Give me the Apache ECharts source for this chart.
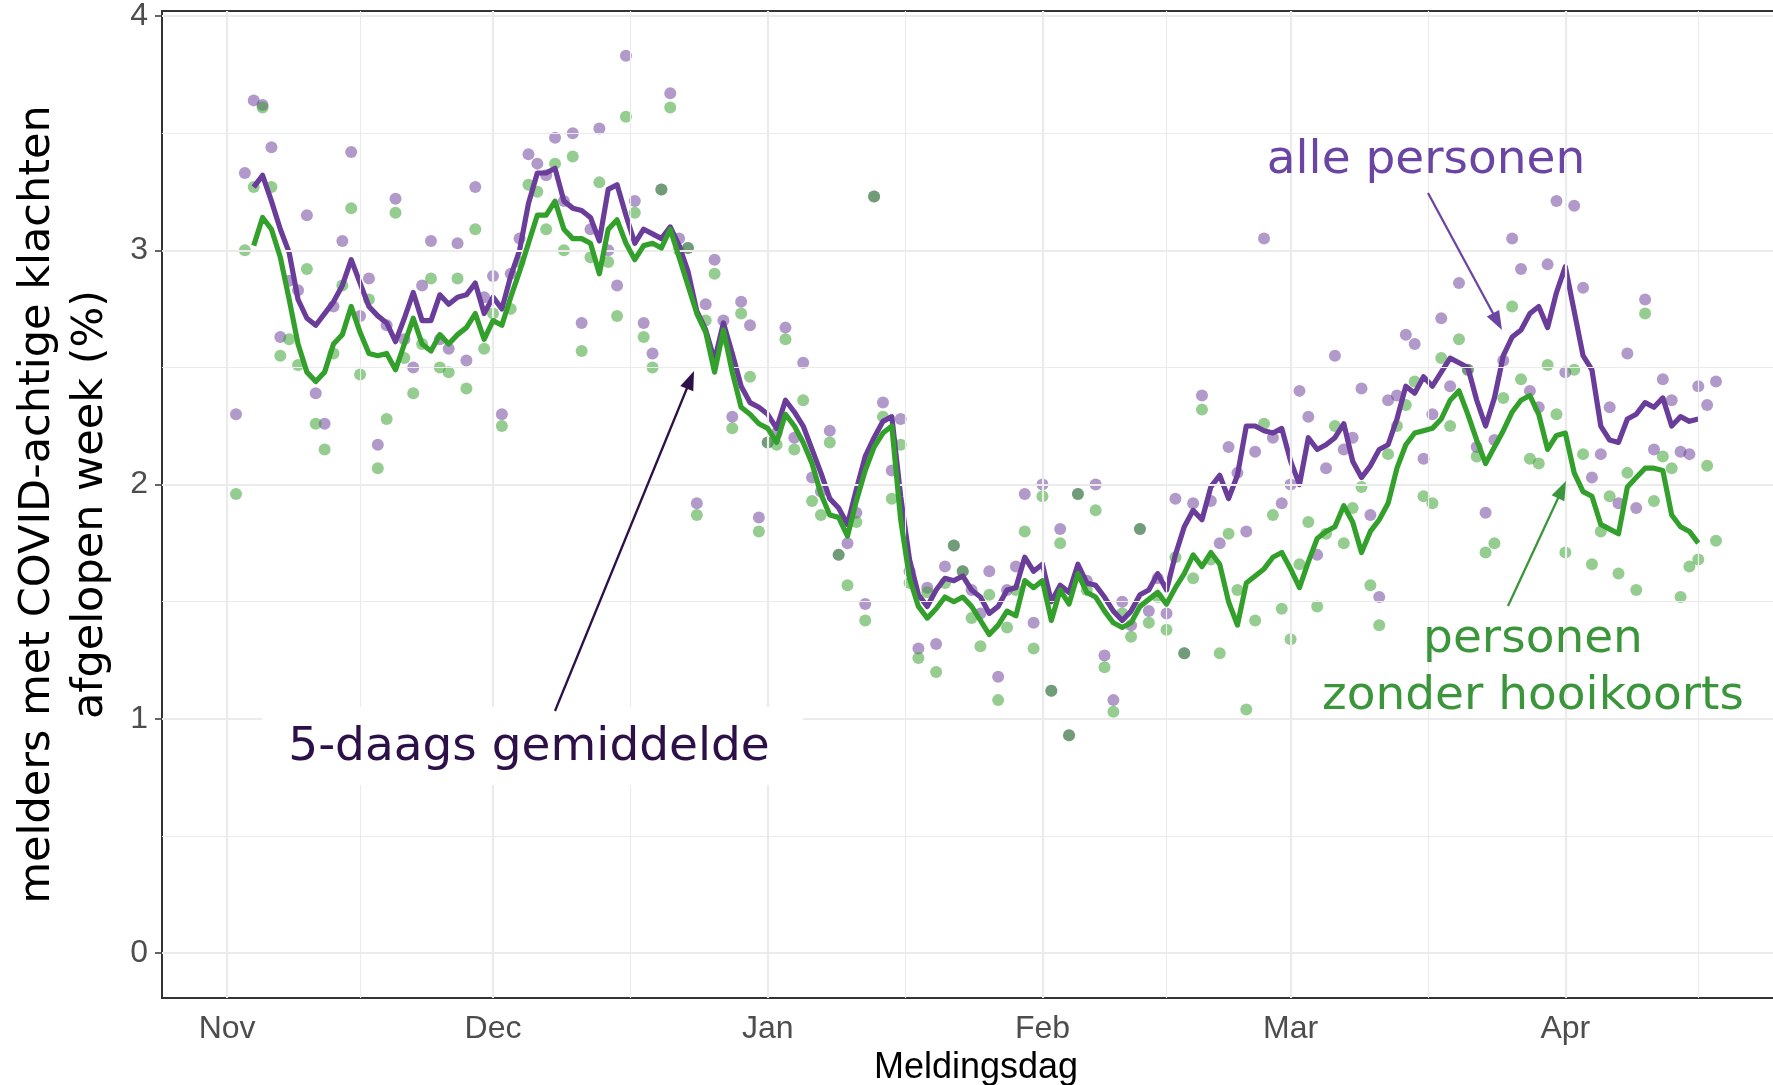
<!DOCTYPE html>
<html><head><meta charset="utf-8">
<script src="https://cdn.jsdelivr.net/npm/echarts@6/dist/echarts.min.js"></script>
<style>
html,body{margin:0;padding:0;background:#fff;overflow:hidden;width:1773px;height:1085px}
#wrap{width:1773px;height:1085px;overflow:hidden;position:relative}
#chart{width:1790px;height:1085px;position:absolute;left:0;top:0}
</style>
</head><body><div id="wrap"><div id="chart"></div></div>
<script>
// ---------------- data ----------------
const pointStart = '2020-11-02';   // first daily point
const lineStart  = '2020-11-04';   // first value of the 5-daags gemiddelde

const allePersonen = [
 2.30,3.33,3.64,3.62,3.44,2.63,2.87,2.83,3.15,2.39,
 2.26,2.76,3.04,3.42,2.72,2.88,2.17,2.68,3.22,2.62,
 2.50,2.85,3.04,2.62,2.58,3.03,2.53,3.27,2.80,2.89,
 2.30,2.90,3.05,3.41,3.37,3.32,3.48,3.21,3.50,2.69,
 3.09,3.52,3.00,2.85,3.83,3.21,2.69,2.56,3.26,3.67,
 3.05,3.01,1.92,2.77,2.96,2.70,2.29,2.78,2.68,1.86,
 2.18,2.22,2.67,2.20,2.52,2.03,1.97,2.23,1.70,1.75,
 1.88,1.49,3.23,2.35,2.06,2.28,1.63,1.30,1.56,1.32,
 1.65,1.74,1.63,1.55,1.45,1.63,1.18,1.55,1.65,1.96,
 1.41,2.00,1.12,1.81,0.93,1.96,1.59,2.00,1.27,1.08,
 1.50,1.40,1.81,1.46,1.60,1.45,1.94,1.28,1.92,2.38,
 1.93,1.75,2.16,2.05,1.80,2.14,3.05,2.20,1.92,2.00,
 2.40,2.29,1.70,2.07,2.55,2.15,2.20,2.41,1.87,1.52,
 2.36,2.38,2.64,2.60,2.11,2.30,2.71,2.42,2.86,2.49,
 2.16,1.88,2.19,2.53,3.05,2.92,2.40,2.33,2.94,3.21,
 2.48,3.19,2.84,2.03,2.13,2.33,1.92,2.56,1.90,2.79,
 2.15,2.45,2.36,2.14,2.13,2.42,2.34,2.44
];
const zonderHooikoorts = [
 1.96,3.00,3.27,3.61,3.27,2.55,2.62,2.51,2.92,2.26,
 2.15,2.56,2.85,3.18,2.47,2.79,2.07,2.28,3.16,2.54,
 2.39,2.60,2.88,2.50,2.48,2.88,2.41,3.09,2.58,2.73,
 2.25,2.75,2.95,3.28,3.25,3.09,3.37,3.00,3.40,2.57,
 2.97,3.29,2.95,2.72,3.57,3.16,2.63,2.50,3.26,3.61,
 3.00,3.01,1.87,2.70,2.90,2.62,2.24,2.73,2.46,1.80,
 2.18,2.17,2.62,2.15,2.36,1.93,1.87,2.18,1.70,1.57,
 1.84,1.42,3.23,2.29,1.94,2.17,1.58,1.26,1.54,1.20,
 1.58,1.74,1.63,1.43,1.31,1.53,1.08,1.39,1.55,1.80,
 1.30,1.95,1.12,1.75,0.93,1.96,1.55,1.89,1.22,1.03,
 1.45,1.35,1.81,1.41,1.52,1.38,1.69,1.28,1.60,2.32,
 1.68,1.28,1.79,1.55,1.04,1.42,2.26,1.87,1.47,1.34,
 1.66,1.84,1.48,1.79,2.25,1.75,1.90,1.99,1.57,1.40,
 2.13,2.25,2.34,2.44,1.95,1.92,2.54,2.25,2.62,2.49,
 2.12,1.71,1.75,2.37,2.76,2.45,2.11,2.09,2.51,2.30,
 1.71,2.49,2.13,1.66,1.80,1.95,1.62,2.05,1.55,2.73,
 1.93,2.12,2.07,1.52,1.65,1.68,2.08,1.76
];
const allePersonenGem = [
 3.27,3.32,3.21,3.09,2.99,2.79,2.71,2.68,
 2.73,2.78,2.85,2.96,2.86,2.76,2.72,2.69,2.61,2.71,
 2.82,2.70,2.70,2.81,2.77,2.80,2.81,2.86,2.73,2.80,
 2.75,2.89,3.00,3.20,3.33,3.33,3.35,3.21,3.18,3.17,
 3.14,3.04,3.26,3.28,3.15,3.03,3.09,3.07,3.05,3.10,
 3.02,2.91,2.74,2.66,2.53,2.69,2.56,2.42,2.35,2.33,
 2.30,2.24,2.36,2.31,2.25,2.15,2.05,1.94,1.90,1.83,
 1.98,2.12,2.20,2.27,2.29,1.95,1.68,1.53,1.48,1.55,
 1.60,1.59,1.61,1.55,1.52,1.45,1.48,1.55,1.56,1.69,
 1.63,1.66,1.50,1.57,1.54,1.66,1.58,1.57,1.52,1.46,
 1.42,1.46,1.53,1.55,1.62,1.55,1.70,1.82,1.89,1.85,
 1.99,2.04,1.94,2.04,2.25,2.25,2.23,2.22,2.24,2.10,
 2.00,2.20,2.15,2.17,2.20,2.26,2.10,2.03,2.08,2.15,
 2.17,2.28,2.42,2.39,2.46,2.42,2.48,2.54,2.52,2.50,
 2.36,2.25,2.37,2.55,2.63,2.66,2.73,2.76,2.67,2.82,
 2.93,2.74,2.55,2.49,2.25,2.19,2.18,2.28,2.30,2.35,
 2.33,2.37,2.25,2.29,2.27,2.28
];
const zonderHooikoortsGem = [
 3.02,3.14,3.09,2.97,2.79,2.60,2.48,2.44,
 2.48,2.60,2.64,2.76,2.65,2.56,2.55,2.56,2.49,2.60,
 2.71,2.60,2.57,2.64,2.60,2.64,2.67,2.73,2.62,2.70,
 2.68,2.80,2.91,3.03,3.15,3.15,3.21,3.09,3.05,3.05,
 3.03,2.90,3.09,3.13,3.03,2.96,3.02,3.03,3.01,3.09,
 2.97,2.85,2.73,2.65,2.48,2.66,2.48,2.33,2.30,2.26,
 2.24,2.18,2.30,2.25,2.18,2.09,1.96,1.87,1.86,1.78,
 1.93,2.06,2.16,2.22,2.25,1.85,1.60,1.48,1.43,1.47,
 1.52,1.50,1.52,1.48,1.42,1.36,1.40,1.46,1.44,1.59,
 1.56,1.59,1.42,1.55,1.49,1.62,1.54,1.52,1.46,1.41,
 1.39,1.41,1.48,1.51,1.54,1.49,1.56,1.62,1.70,1.65,
 1.71,1.66,1.50,1.40,1.58,1.61,1.64,1.69,1.71,1.64,
 1.56,1.67,1.77,1.80,1.82,1.91,1.84,1.71,1.80,1.85,
 1.92,2.07,2.17,2.22,2.23,2.24,2.28,2.36,2.40,2.30,
 2.19,2.09,2.16,2.23,2.31,2.36,2.38,2.30,2.15,2.21,
 2.22,2.05,1.97,1.95,1.83,1.81,1.79,1.99,2.03,2.07,
 2.07,2.06,1.87,1.82,1.80,1.75
];
const monthTicks  = ['2020-11-01','2020-12-01','2021-01-01','2021-02-01','2021-03-01','2021-04-01','2021-05-01'];
const monthLabels = ['Nov','Dec','Jan','Feb','Mar','Apr','May'];
const yTicks = [0, 1, 2, 3, 4];

// ---------------- build ----------------
const DAY = 864e5;
const seq = (start, n) => { const t = Date.parse(start); return Array.from({length: n}, (_, i) => t + i * DAY); };
const pDates = seq(pointStart, allePersonen.length);
const lDates = seq(lineStart, allePersonenGem.length);
const pair = (dates, vals) => dates.map((t, i) => [t, vals[i]]);

const monthTs = monthTicks.map(d => Date.parse(d));
const minorTs = monthTs.slice(0, -1).map((t, i) => (t + monthTs[i + 1]) / 2);
const labelOf = v => { const i = monthTs.indexOf(v); return i >= 0 ? monthLabels[i] : ''; };

const x0 = Date.parse('2020-11-01');
const xMin = x0 - 7.35 * DAY, xMax = x0 + 176.35 * DAY;

const PURPLE = '#6A3D9A', GREEN = '#33A02C';
const gridCol = '#EBEBEB';
const gridLines = [];
monthTs.forEach(t => gridLines.push({xAxis: t, lineStyle: {color: gridCol, width: 2.2, type: 'solid'}}));
minorTs.forEach(t => gridLines.push({xAxis: t, lineStyle: {color: gridCol, width: 1.1, type: 'solid'}}));
yTicks.forEach(v => gridLines.push({yAxis: v, lineStyle: {color: gridCol, width: 2.2, type: 'solid'}}));
yTicks.slice(0, -1).forEach(v => gridLines.push({yAxis: v + 0.5, lineStyle: {color: gridCol, width: 1.1, type: 'solid'}}));

function arrow(x1, y1, x2, y2, color) {
  const dx = x2 - x1, dy = y2 - y1, L = Math.hypot(dx, dy);
  const ux = dx / L, uy = dy / L, h = 19, w = 7;
  const bx = x2 - ux * h, by = y2 - uy * h, px = -uy, py = ux;
  return [
    {type: 'line', z: 100, shape: {x1, y1, x2: bx + ux * 2, y2: by + uy * 2}, style: {stroke: color, lineWidth: 2.3}},
    {type: 'polygon', z: 100, shape: {points: [[x2, y2], [bx + px * w, by + py * w], [bx - px * w, by - py * w]]}, style: {fill: color}}
  ];
}
function label(text, x, y, color) {
  return {type: 'text', z: 101, x, y, style: {text, fill: color, font: '47px "DejaVu Sans"',
    fontSize: 47, fontFamily: 'DejaVu Sans', textAlign: 'center', align: 'center',
    textVerticalAlign: 'middle', verticalAlign: 'middle'}};
}

const chart = echarts.init(document.getElementById('chart'), null, {renderer: 'canvas'});
chart.setOption({
  animation: false,
  backgroundColor: '#fff',
  grid: {left: 162, right: 0, top: 11, bottom: 87, show: true, borderColor: '#333', borderWidth: 2,
         backgroundColor: 'transparent', containLabel: false, outerBoundsMode: 'none'},
  xAxis: {
    type: 'value', min: xMin, max: xMax,
    axisLine: {show: false},
    splitLine: {show: false},
    axisTick: {show: true, length: 7, lineStyle: {color: '#333', width: 1.5}, customValues: monthTs.slice(0, -1)},
    axisLabel: {customValues: monthTs.slice(0, -1), formatter: labelOf, color: '#4D4D4D',
      fontFamily: 'Liberation Sans', fontSize: 32, margin: 15},
    name: 'Meldingsdag', nameLocation: 'middle', nameGap: 49,
    nameTextStyle: {color: '#000', fontFamily: 'Liberation Sans', fontSize: 36}
  },
  yAxis: {
    type: 'value', min: -0.1915, max: 4.0215,
    axisLine: {show: false},
    splitLine: {show: false},
    axisTick: {show: true, length: 7, lineStyle: {color: '#333', width: 1.5}, customValues: yTicks},
    axisLabel: {customValues: yTicks, color: '#4D4D4D', fontFamily: 'Liberation Sans', fontSize: 32, margin: 14},
    name: 'melders met COVID-achtige klachten\nafgelopen week (%)', nameLocation: 'middle', nameGap: 45,
    nameTextStyle: {color: '#000', fontFamily: 'DejaVu Sans', fontSize: 43, lineHeight: 53}
  },
  series: [
    {type: 'line', data: [], z: 1, silent: true,
     markLine: {silent: true, symbol: ['none', 'none'], label: {show: false}, animation: false, data: gridLines}},
    {name: 'alle personen', type: 'scatter', z: 2, data: pair(pDates, allePersonen), symbolSize: 12,
     itemStyle: {color: PURPLE, opacity: 0.52}},
    {name: 'zonder hooikoorts', type: 'scatter', z: 3, data: pair(pDates, zonderHooikoorts), symbolSize: 12,
     itemStyle: {color: GREEN, opacity: 0.52}},
    {name: 'alle personen 5-daags', type: 'line', z: 4, data: pair(lDates, allePersonenGem), showSymbol: false,
     lineStyle: {color: PURPLE, width: 5.2, join: 'round'}},
    {name: 'zonder hooikoorts 5-daags', type: 'line', z: 5, data: pair(lDates, zonderHooikoortsGem), showSymbol: false,
     lineStyle: {color: GREEN, width: 5.2, join: 'round'}}
  ],
  graphic: [
    {type: 'rect', z: 99, shape: {x: 262, y: 707, width: 541, height: 78}, style: {fill: '#fff'}},
    label('5-daags gemiddelde', 529, 748, '#2D1048'),
    label('alle personen', 1426, 161, '#6B45A3'),
    label('personen', 1533, 640, '#3B963B'),
    label('zonder hooikoorts', 1533, 697, '#3B963B'),
    ...arrow(555, 711, 694, 371, '#2D1048'),
    ...arrow(1428, 193, 1502, 330, '#6B45A3'),
    ...arrow(1508, 606, 1566, 481, '#3B963B')
  ]
});
</script></body></html>
